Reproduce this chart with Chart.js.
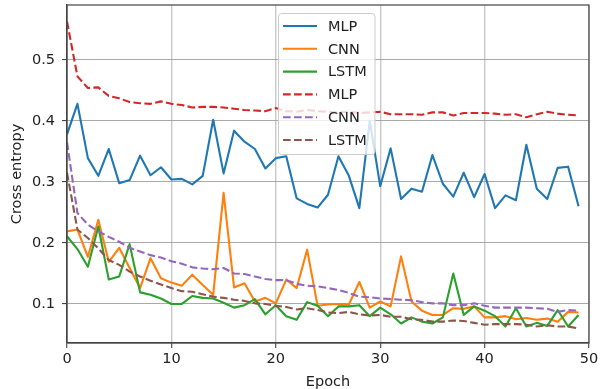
<!DOCTYPE html>
<html>
<head>
<meta charset="utf-8">
<script src="https://cdn.jsdelivr.net/npm/chart.js@4.4.1/dist/chart.umd.min.js"></script>
<style>
html,body{margin:0;padding:0;background:#fff;}
#wrap{width:603px;height:389px;position:relative;}
</style>
</head>
<body>
<div id="wrap"><canvas id="c" width="603" height="389"></canvas></div>
<script>
const epochs = [0,1,2,3,4,5,6,7,8,9,10,11,12,13,14,15,16,17,18,19,20,21,22,23,24,25,26,27,28,29,30,31,32,33,34,35,36,37,38,39,40,41,42,43,44,45,46,47,48,49];
const xTicks = [0,10,20,30,40,50];
const yTicks = [0.1,0.2,0.3,0.4,0.5];
const seriesLabels = ["MLP","CNN","LSTM","MLP","CNN","LSTM"];

const mlpTrain = [0.378,0.428,0.339,0.310,0.354,0.298,0.303,0.343,0.311,0.324,
  0.304,0.305,0.296,0.310,0.402,0.314,0.384,0.366,0.354,0.322,
  0.339,0.342,0.273,0.264,0.258,0.279,0.342,0.310,0.257,0.400,
  0.293,0.355,0.272,0.289,0.284,0.344,0.297,0.276,0.315,0.275,
  0.313,0.257,0.278,0.270,0.361,0.289,0.272,0.323,0.325,0.260];
const cnnTrain = [0.219,0.222,0.177,0.238,0.169,0.192,0.159,0.126,0.175,0.142,
  0.135,0.130,0.148,0.131,0.115,0.282,0.127,0.134,0.104,0.110,
  0.101,0.140,0.126,0.189,0.097,0.099,0.100,0.099,0.136,0.094,
  0.104,0.096,0.178,0.104,0.089,0.082,0.082,0.093,0.092,0.096,
  0.078,0.078,0.080,0.075,0.077,0.074,0.076,0.071,0.087,0.086];
const lstmTrain = [0.211,0.190,0.161,0.227,0.140,0.145,0.198,0.119,0.115,0.109,
  0.100,0.100,0.113,0.110,0.109,0.102,0.094,0.098,0.108,0.083,
  0.098,0.080,0.074,0.103,0.097,0.080,0.096,0.096,0.098,0.080,
  0.094,0.083,0.068,0.078,0.071,0.068,0.078,0.150,0.082,0.096,
  0.089,0.080,0.063,0.093,0.063,0.069,0.064,0.090,0.063,0.082];
const mlpVal = [0.563,0.473,0.454,0.455,0.441,0.437,0.431,0.429,0.428,0.432,
  0.428,0.426,0.422,0.423,0.423,0.422,0.420,0.418,0.417,0.416,
  0.421,0.416,0.415,0.418,0.416,0.415,0.414,0.415,0.413,0.414,
  0.415,0.411,0.411,0.411,0.410,0.414,0.414,0.409,0.413,0.413,
  0.413,0.412,0.410,0.411,0.406,0.411,0.415,0.412,0.410,0.409];
const cnnVal = [0.365,0.249,0.230,0.219,0.210,0.202,0.192,0.186,0.180,0.176,
  0.170,0.166,0.160,0.158,0.157,0.159,0.150,0.149,0.145,0.141,
  0.139,0.139,0.133,0.130,0.129,0.126,0.123,0.118,0.112,0.111,
  0.109,0.108,0.107,0.106,0.103,0.101,0.101,0.098,0.098,0.101,
  0.097,0.094,0.094,0.094,0.094,0.093,0.092,0.087,0.090,0.089];
const lstmVal = [0.315,0.222,0.208,0.191,0.172,0.164,0.153,0.145,0.138,0.132,
  0.126,0.121,0.120,0.116,0.112,0.110,0.107,0.105,0.101,0.100,
  0.097,0.095,0.091,0.093,0.090,0.086,0.085,0.087,0.083,0.081,
  0.082,0.079,0.079,0.075,0.074,0.071,0.071,0.073,0.072,0.069,
  0.066,0.067,0.067,0.067,0.066,0.063,0.065,0.063,0.063,0.060];

const FONT = "'DejaVu Sans', sans-serif";
const colors = ["#1f77b4","#ff7f0e","#2ca02c","#d62728","#9467bd","#8c564b"];
const allSeries = [mlpTrain,cnnTrain,lstmTrain,mlpVal,cnnVal,lstmVal];
const DASH = [7.7,3.3];

const datasets = allSeries.map((vals,i)=>({
  label: seriesLabels[i],
  data: epochs.map((e,j)=>({x:e,y:vals[j]})),
  borderColor: colors[i],
  backgroundColor: colors[i],
  borderWidth: 2.1,
  borderDash: i>=3 ? DASH : [],
  pointRadius: 0,
  tension: 0,
  fill: false,
  order: 6-i,
  borderCapStyle: 'butt',
  borderJoinStyle: 'round'
}));

const framePlugin = {
  id:'frame',
  afterDraw(chart){
    const {ctx, chartArea:a} = chart;
    ctx.save();
    // legend
    const lx=278.5, ly=13.5, lw=96.5, lh=141;
    ctx.beginPath();
    if (ctx.roundRect) ctx.roundRect(lx,ly,lw,lh,3); else ctx.rect(lx,ly,lw,lh);
    ctx.fillStyle='rgba(255,255,255,0.8)';
    ctx.fill();
    ctx.strokeStyle='#cccccc';
    ctx.lineWidth=1;
    ctx.stroke();
    chart.data.datasets.forEach((ds,i)=>{
      const y = 26 + i*22.8;
      ctx.beginPath();
      ctx.setLineDash(ds.borderDash||[]);
      ctx.strokeStyle=ds.borderColor;
      ctx.lineWidth=2.1;
      ctx.moveTo(283,y); ctx.lineTo(317,y);
      ctx.stroke();
      ctx.setLineDash([]);
      ctx.fillStyle='#222';
      ctx.font='14.5px '+FONT;
      ctx.textBaseline='middle';
      ctx.textAlign='left';
      ctx.fillText(ds.label,328,y+1);
    });
    // frame
    ctx.strokeStyle='#444';
    ctx.lineWidth=1.2;
    ctx.strokeRect(a.left,a.top,a.right-a.left,a.bottom-a.top);
    ctx.restore();
  }
};

new Chart(document.getElementById('c'),{
  type:'line',
  data:{datasets},
  options:{
    responsive:false,
    animation:false,
    devicePixelRatio:1,
    layout:{padding:{left:0,right:14,top:5,bottom:0}},
    plugins:{legend:{display:false},tooltip:{enabled:false}},
    scales:{
      x:{
        type:'linear',
        min:0,max:50,
        afterBuildTicks(s){ s.ticks = xTicks.map(v=>({value:v})); },
        afterFit(s){ s.height = 46; s.paddingLeft = 0; s.paddingRight = 0; },
        ticks:{font:{family:FONT,size:14.5},color:'#222',padding:3,maxRotation:0,
               callback:(v)=>String(v)},
        grid:{color:'rgba(190,190,190,0.85)',lineWidth:1.4,tickLength:5,tickColor:'#444',tickWidth:1.1},
        border:{display:true,color:'#444',width:1.2},
        title:{display:true,text:'Epoch',font:{family:FONT,size:14.5,lineHeight:1},color:'#222',padding:{top:0,bottom:0}}
      },
      y:{
        type:'linear',
        min:0.036,max:0.590,
        afterBuildTicks(s){ s.ticks = yTicks.map(v=>({value:v})); },
        afterFit(s){ s.width = 67; s.paddingTop = 0; s.paddingBottom = 0; },
        ticks:{font:{family:FONT,size:14.5},color:'#222',padding:7,
               callback:(v)=>v.toFixed(1)},
        grid:{color:'rgba(160,160,160,0.9)',lineWidth:1.1,tickLength:5,tickColor:'#444',tickWidth:1.1},
        border:{display:true,color:'#444',width:1.2},
        title:{display:true,text:'Cross entropy',font:{family:FONT,size:14.5,lineHeight:1},color:'#222',padding:{top:10,bottom:0}}
      }
    }
  },
  plugins:[framePlugin]
});
</script>
</body>
</html>
